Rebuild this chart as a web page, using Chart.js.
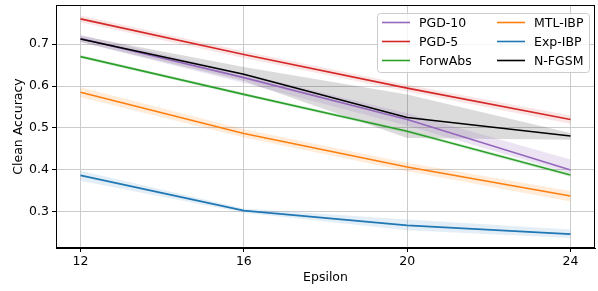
<!DOCTYPE html>
<html>
<head>
<meta charset="utf-8">
<script src="https://cdn.jsdelivr.net/npm/chart.js@4"></script>
<style>
	html, body { margin: 0; padding: 0; background: #fff; }
	#wrap { width: 598px; height: 291px; }
</style>
</head>
<body>
<div id="wrap"><canvas id="chart" width="598" height="291"></canvas></div>
<script>
const epsilons = [12, 16, 20, 24];
const xTicks = [12, 16, 20, 24];
const yTicks = [0.3, 0.4, 0.5, 0.6, 0.7];

const seriesNames = ['PGD-10', 'PGD-5', 'ForwAbs', 'MTL-IBP', 'Exp-IBP', 'N-FGSM'];
const pgd10 = [0.713, 0.620, 0.520, 0.400];
const pgd5 = [0.760, 0.675, 0.595, 0.520];
const forwAbs = [0.670, 0.580, 0.492, 0.388];
const mtlIbp = [0.585, 0.487, 0.407, 0.338];
const expIbp = [0.387, 0.303, 0.268, 0.247];
const nFgsm = [0.712, 0.628, 0.525, 0.481];

// shaded bands (lower / upper)
const pgd10Lo = [0.705, 0.607, 0.505, 0.392];
const pgd10Hi = [0.722, 0.630, 0.535, 0.425];
const pgd5Lo = [0.752, 0.667, 0.587, 0.510];
const pgd5Hi = [0.768, 0.683, 0.603, 0.530];
const forwAbsLo = [0.666, 0.576, 0.488, 0.383];
const forwAbsHi = [0.674, 0.584, 0.496, 0.393];
const mtlIbpLo = [0.573, 0.477, 0.397, 0.325];
const mtlIbpHi = [0.597, 0.497, 0.417, 0.350];
const expIbpLo = [0.374, 0.298, 0.256, 0.238];
const expIbpHi = [0.398, 0.308, 0.282, 0.258];
const nFgsmLo = [0.705, 0.612, 0.476, 0.472];
const nFgsmHi = [0.720, 0.645, 0.580, 0.488];

const colors = ['#9467bd', '#d62728', '#2ca02c', '#ff7f0e', '#1f77b4', '#000000'];
const bandColors = [
	'rgba(148, 103, 189, 0.18)',
	'rgba(214, 39, 40, 0.12)',
	'rgba(44, 160, 44, 0.15)',
	'rgba(255, 127, 14, 0.15)',
	'rgba(31, 119, 180, 0.12)',
	'rgba(0, 0, 0, 0.14)',
];
const means = [pgd10, pgd5, forwAbs, mtlIbp, expIbp, nFgsm];
const lows = [pgd10Lo, pgd5Lo, forwAbsLo, mtlIbpLo, expIbpLo, nFgsmLo];
const highs = [pgd10Hi, pgd5Hi, forwAbsHi, mtlIbpHi, expIbpHi, nFgsmHi];

const pts = arr => arr.map((v, i) => ({ x: epsilons[i], y: v }));

const datasets = [];
seriesNames.forEach((name, k) => {
	datasets.push({
		label: name + ' lo',
		data: pts(lows[k]),
		borderWidth: 0,
		pointRadius: 0,
		fill: false,
		order: 20,
	});
	datasets.push({
		label: name + ' hi',
		data: pts(highs[k]),
		borderWidth: 0,
		pointRadius: 0,
		backgroundColor: bandColors[k],
		fill: '-1',
		order: 20,
	});
});
seriesNames.forEach((name, k) => {
	datasets.push({
		label: name,
		data: pts(means[k]),
		borderColor: colors[k],
		borderWidth: 1.6,
		pointRadius: 0,
		fill: false,
		order: 10 - k,
	});
});

const font = { family: 'DejaVu Sans', size: 12.5 };

const framePlugin = {
	id: 'frame',
	afterDraw(chart) {
		const { ctx, chartArea: a } = chart;
		ctx.save();
		ctx.strokeStyle = '#000';
		ctx.lineWidth = 1;
		ctx.strokeRect(a.left + 0.5, a.top + 0.5, a.right - a.left - 1, a.bottom - a.top - 1);

		// legend, two columns
		const bx = 377, by = 13, bw = 212, bh = 59;
		ctx.fillStyle = 'rgba(255,255,255,0.8)';
		ctx.strokeStyle = '#cccccc';
		ctx.beginPath();
		ctx.roundRect(bx + 0.5, by + 0.5, bw, bh, 3);
		ctx.fill();
		ctx.stroke();
		ctx.font = '12.5px "DejaVu Sans"';
		ctx.textBaseline = 'middle';
		seriesNames.forEach((name, k) => {
			const col = Math.floor(k / 3);
			const row = k % 3;
			const lx = col === 0 ? 382 : 497;
			const ly = 22.5 + row * 19;
			ctx.strokeStyle = colors[k];
			ctx.lineWidth = 1.6;
			ctx.beginPath();
			ctx.moveTo(lx, ly);
			ctx.lineTo(lx + 28, ly);
			ctx.stroke();
			ctx.fillStyle = '#000';
			ctx.fillText(name, lx + 37, ly + 1);
		});
		ctx.restore();
	},
};

new Chart(document.getElementById('chart'), {
	type: 'line',
	data: { datasets },
	options: {
		responsive: false,
		animation: false,
		layout: { padding: { left: 0, right: 3, top: 5, bottom: 0 } },
		plugins: { legend: { display: false }, tooltip: { enabled: false } },
		scales: {
			x: {
				type: 'linear',
				min: 11.4,
				max: 24.6,
				afterBuildTicks: s => { s.ticks = xTicks.map(v => ({ value: v })); },
				afterFit: s => { s.height = 43; s.paddingLeft = 0; s.paddingRight = 0; },
				ticks: { color: '#000', font, padding: 2, maxRotation: 0 },
				grid: { color: '#cccccc', tickColor: '#000', tickLength: 4 },
				border: { color: '#000' },
				title: { display: true, text: 'Epsilon', color: '#000', font, padding: { top: 0, bottom: 6 } },
			},
			y: {
				min: 0.214,
				max: 0.793,
				afterBuildTicks: s => { s.ticks = yTicks.map(v => ({ value: v })); },
				afterFit: s => { s.width = 56; s.paddingTop = 0; s.paddingBottom = 0; },
				ticks: { color: '#000', font, padding: 3, callback: v => v.toFixed(1) },
				grid: { color: '#cccccc', tickColor: '#000', tickLength: 4 },
				border: { color: '#000' },
				title: { display: true, text: 'Clean Accuracy', color: '#000', font, padding: { top: 11, bottom: 0 } },
			},
		},
	},
	plugins: [framePlugin],
});
</script>
</body>
</html>
